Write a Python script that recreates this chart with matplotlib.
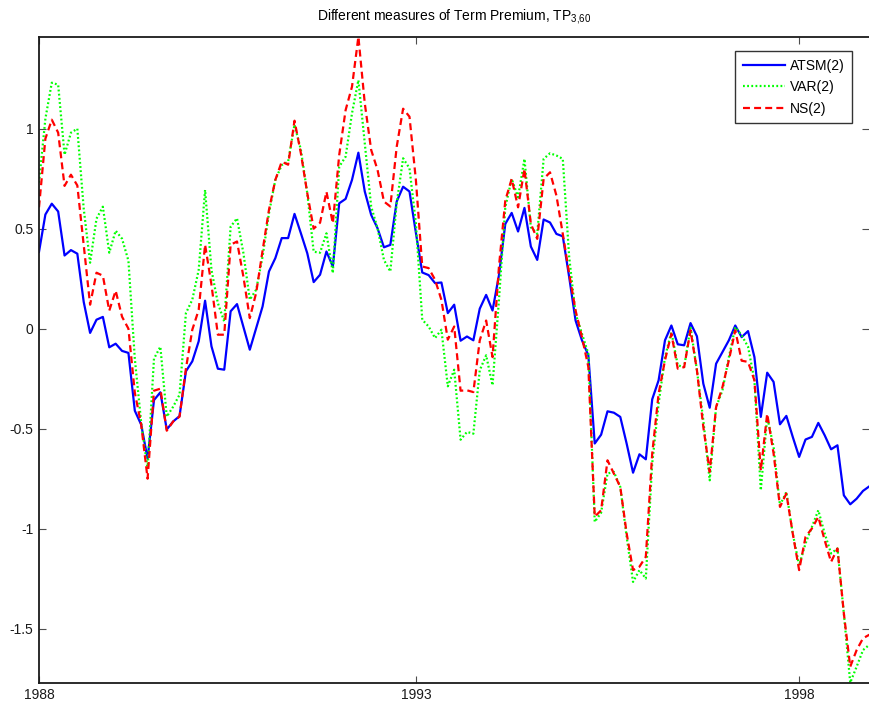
"""Term premium comparison: ATSM(2) vs VAR(2) vs NS(2), monthly 1988-1998."""
import numpy as np
import matplotlib
matplotlib.use("Agg")
import matplotlib.pyplot as plt

plt.rcParams.update({
    "font.family": ["Liberation Sans", "DejaVu Sans"],
    "font.size": 10,
    "axes.unicode_minus": False,
    "lines.scale_dashes": False,
})

# monthly observations, first one is 1988:2
start_year = 1988
start_month = 2

atsm = [0.384, 0.571, 0.625, 0.586, 0.366, 0.393, 0.375, 0.134, -0.021, 0.045,
        0.059, -0.093, -0.075, -0.111, -0.121, -0.41, -0.48, -0.65, -0.357, -0.318,
        -0.504, -0.464, -0.437,
        -0.213, -0.163, -0.063, 0.140, -0.088, -0.200, -0.205, 0.087, 0.123, 0.010,
        -0.105, 0.003, 0.111, 0.286, 0.353, 0.453, 0.453, 0.574, 0.477, 0.377, 0.233,
        0.27, 0.386, 0.311, 0.627, 0.649, 0.744, 0.88, 0.686, 0.569, 0.502,
        0.407, 0.419, 0.636, 0.71, 0.686, 0.48, 0.281, 0.268, 0.228, 0.231,
        0.078, 0.12, -0.06,
        -0.039, -0.058, 0.1, 0.169, 0.091, 0.266, 0.524, 0.579, 0.486, 0.604,
        0.411, 0.344, 0.546, 0.531, 0.474, 0.462, 0.258, 0.041, -0.058, -0.133, -0.574,
        -0.53, -0.413, -0.42, -0.441, -0.575, -0.72, -0.628, -0.653, -0.353, -0.258,
        -0.058, 0.016, -0.078, -0.083, 0.028, -0.038, -0.275, -0.395, -0.175, -0.117,
        -0.058, 0.016,
        -0.042, -0.012, -0.142, -0.441, -0.22, -0.266, -0.478, -0.436, -0.541, -0.641,
        -0.554, -0.541, -0.471, -0.533, -0.603, -0.583, -0.833, -0.878, -0.85, -0.811,
        -0.788]

var2 = [0.73, 1.05, 1.23, 1.22, 0.87, 0.98, 1.0, 0.6, 0.33, 0.55,
        0.61, 0.38, 0.49, 0.45, 0.34, -0.15, -0.47, -0.70, -0.15, -0.09,
        -0.44, -0.39, -0.33,
        0.078, 0.145, 0.294, 0.694, 0.294, 0.128, 0.036, 0.51, 0.552, 0.378,
        0.145, 0.195, 0.36, 0.577, 0.744, 0.818, 0.835, 1.02, 0.894, 0.677, 0.385,
        0.38, 0.477, 0.278, 0.81, 0.86, 1.077, 1.243, 0.927, 0.611, 0.502,
        0.344, 0.286, 0.627, 0.852, 0.802, 0.527, 0.045, 0.011, -0.047, -0.005,
        -0.288, -0.205, -0.555,
        -0.516, -0.525, -0.208, -0.133, -0.283, 0.141, 0.607, 0.749, 0.657, 0.849,
        0.507, 0.474, 0.849, 0.877, 0.866, 0.849, 0.358, 0.075, -0.025, -0.125, -0.966,
        -0.92, -0.724, -0.716, -0.791, -1.041, -1.266, -1.207, -1.249, -0.674, -0.375,
        -0.142, -0.017, -0.183, -0.192, 0.008, -0.208, -0.458, -0.758, -0.392, -0.308,
        -0.142, 0.008,
        -0.033, -0.09, -0.258, -0.808, -0.44, -0.591, -0.883, -0.816, -1.024, -1.183,
        -1.074, -0.991, -0.908, -1.024, -1.124, -1.099, -1.424, -1.77, -1.69, -1.607,
        -1.58]

ns2 = [0.607, 0.95, 1.045, 0.98, 0.714, 0.77, 0.716, 0.42, 0.12, 0.28,
       0.265, 0.09, 0.19, 0.06, 0.0, -0.32, -0.48, -0.75, -0.31, -0.30,
       -0.51, -0.464, -0.44,
       -0.2, -0.005, 0.094, 0.42, 0.22, -0.03, -0.03, 0.42, 0.436, 0.26,
       0.053, 0.18, 0.39, 0.594, 0.744, 0.835, 0.82, 1.04, 0.877, 0.677, 0.50,
       0.53, 0.685, 0.527, 0.869, 1.093, 1.21, 1.46, 1.127, 0.894, 0.794,
       0.636, 0.611, 0.91, 1.10, 1.06, 0.744, 0.311, 0.303, 0.245, 0.144,
       -0.055, 0.011, -0.31,
       -0.308, -0.317, -0.058, 0.041, -0.142, 0.308, 0.641, 0.749, 0.607, 0.799,
       0.524, 0.449, 0.749, 0.782, 0.666, 0.474, 0.275, 0.091, -0.042, -0.191, -0.94,
       -0.908, -0.658, -0.724, -0.791, -1.024, -1.207, -1.19, -1.14, -0.624, -0.325,
       -0.158, -0.025, -0.2, -0.192, -0.008, -0.208, -0.491, -0.716, -0.392, -0.291,
       -0.158, -0.008,
       -0.16, -0.166, -0.258, -0.708, -0.425, -0.624, -0.891, -0.824, -1.024, -1.207,
       -1.041, -0.999, -0.941, -1.058, -1.166, -1.099, -1.424, -1.69, -1.607, -1.548,
       -1.53]

labels = ["ATSM(2)", "VAR(2)", "NS(2)"]
xtick_years = [1988, 1993, 1998]
ytick_vals = [-1.5, -1, -0.5, 0, 0.5, 1]

n = len(atsm)
t = start_year + (start_month - 1 + np.arange(n)) / 12.0

W, H = 869, 708
fig = plt.figure(figsize=(W / 100, H / 100), dpi=100)
ax = fig.add_axes([39 / W, (H - 682.7) / H, (869.4 - 39) / W, (682.7 - 36.7) / H])

ax.plot(t, atsm, color="#0000ff", lw=1.6, ls="-", label=labels[0])
ax.plot(t, var2, color="#00ff00", lw=1.6, dashes=(1.3, 1.7), label=labels[1])
ax.plot(t, ns2, color="#ff0000", lw=1.6, dashes=(5, 3), label=labels[2])

allv = np.concatenate([atsm, var2, ns2])
ax.set_xlim(t[0], t[-1])
ax.set_ylim(allv.min(), allv.max())

# first label sits at the left limit, the others on Jan of the year
ax.set_xticks([t[0]] + xtick_years[1:])
ax.set_xticklabels([str(y) for y in xtick_years])
ax.set_yticks(ytick_vals)
ax.set_yticklabels(["%g" % v for v in ytick_vals])

ax.tick_params(direction="in", length=5, width=0.8, color="0.3",
               top=True, right=True, labelsize=10, pad=4, labelcolor="#1a1a1a")
for s in ax.spines.values():
    s.set_linewidth(1.3)
    s.set_color("#1a1a1a")
ax.spines["right"].set_visible(False)

ax.set_title("Different measures of Term Premium, TP$_{\\mathregular{3{,}60}}$",
             fontsize=10, pad=12)

leg = ax.legend(loc="upper right", bbox_to_anchor=(0.979, 0.978), borderaxespad=0,
                fontsize=10, handlelength=3.0, handletextpad=0.35,
                labelspacing=0.55, borderpad=0.55, fancybox=False)
leg.get_frame().set_edgecolor("black")
leg.get_frame().set_linewidth(1.0)

fig.savefig("out.png", dpi=100)
